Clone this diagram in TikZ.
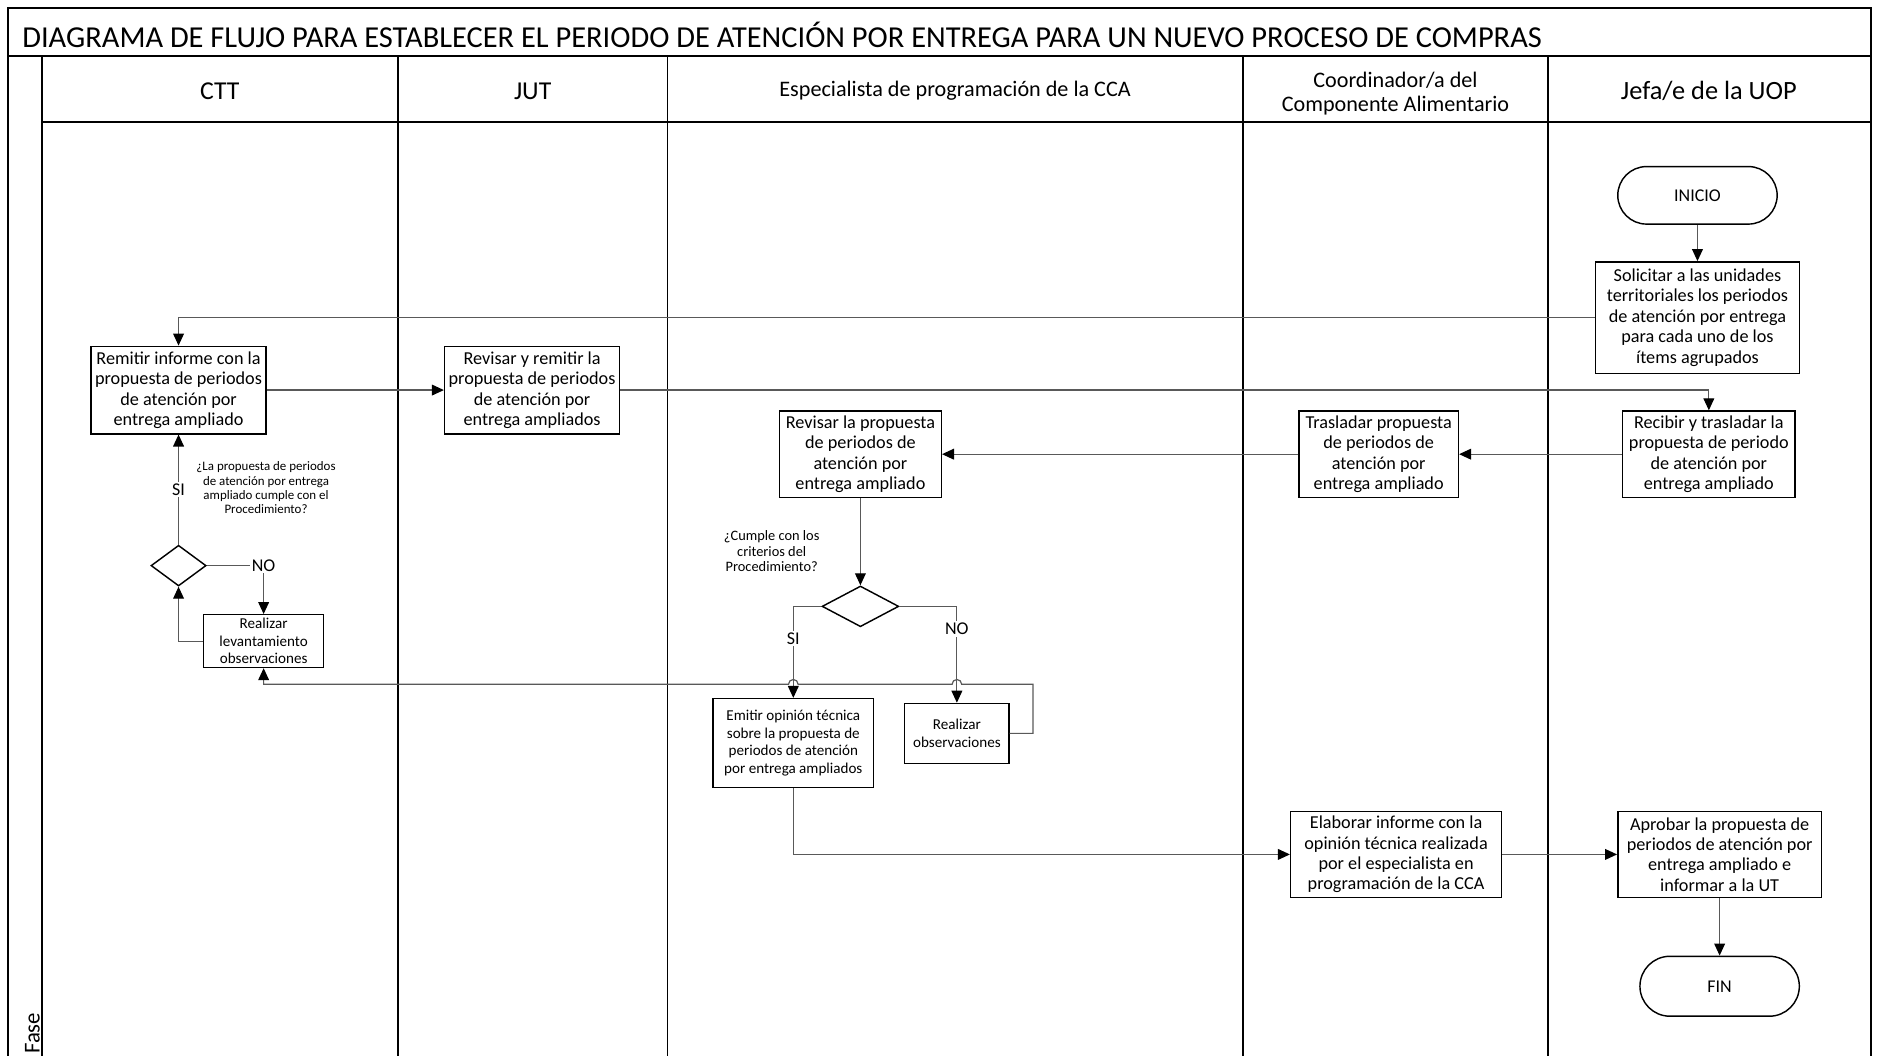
\documentclass[tikz,border=0pt]{standalone}
\usepackage{fontspec}
\setmainfont{Carlito}
\usetikzlibrary{arrows.meta,shapes.geometric,calc}

\tikzset{every picture/.style={line width=1.3pt}}
\tikzset{
  lane/.style={line width=1.5pt},
  proc/.style={draw, line width=1.2pt, align=center, inner sep=1pt, font=\fontsize{15.2}{17}\selectfont},
  smallproc/.style={proc, font=\fontsize{12.6}{14.6}\selectfont},
  term/.style={draw, line width=1.2pt, rounded corners=24pt, align=center, font=\fontsize{15}{17}\selectfont},
  decision/.style={draw, diamond, line width=1.2pt, inner sep=0pt},
  flow/.style={draw=black!65, line width=1pt, -{Triangle[length=10pt,width=9pt,color=black]}},
  answer/.style={fill=white, inner sep=1.5pt, font=\fontsize{15}{16}\selectfont},
  query/.style={align=center, inner sep=0pt},
  lanehead/.style={align=center, font=\fontsize{18.5}{20}\selectfont}
}

\begin{document}
\begin{tikzpicture}[x=1pt,y=1pt,yscale=-1,xscale=1]
\useasboundingbox (0,0) rectangle (1568,881);

%Pool frame and lanes
\draw[lane] (7,881) -- (7,7) -- (1561,7) -- (1561,881);
\draw[lane] (7,47) -- (1561,47);
\draw[lane] (35,102) -- (1561,102);
\foreach \x in {35,332,557,1037,1292} \draw[lane] (\x,47) -- (\x,881);

% Text Node
\node[anchor=west, inner sep=0pt, font=\fontsize{25.4}{28}\selectfont] (title) at (18,29) {DIAGRAMA DE FLUJO PARA ESTABLECER EL PERIODO DE ATENCIÓN POR ENTREGA PARA UN NUEVO PROCESO DE COMPRAS};
\node[lanehead, font=\fontsize{21.5}{24}\selectfont] (hctt) at (183.5,76) {CTT};
\node[lanehead, font=\fontsize{21.5}{24}\selectfont] (hjut) at (444.5,76) {JUT};
\node[lanehead] (hcca) at (797,76) {Especialista de programación de la CCA};
\node[lanehead] (hcoord) at (1164.5,78) {Coordinador/a del\\Componente Alimentario};
\node[lanehead, font=\fontsize{22}{24}\selectfont] (huop) at (1426,76) {Jefa/e de la UOP};
\node[rotate=90, anchor=west, inner sep=0pt, font=\fontsize{19}{20}\selectfont] (fase) at (27,880) {Fase};

%Shape: Terminators
\node[term, minimum width=133pt, minimum height=48pt] (ini) at (1416.5,163) {INICIO};
\node[term, minimum width=133pt, minimum height=50pt, rounded corners=25pt] (fin) at (1435,823) {FIN};

%Shape: Process boxes
\node[proc, minimum width=170pt, minimum height=93pt] (sol) at (1416.5,265) {Solicitar a las unidades\\territoriales los periodos\\de atención por entrega\\para cada uno de los\\ítems agrupados};
\node[proc, minimum width=146pt, minimum height=73pt] (rem) at (149,325.5) {Remitir informe con la\\propuesta de periodos\\de atención por\\entrega ampliado};
\node[proc, minimum width=146pt, minimum height=73pt] (jut) at (444,325.5) {Revisar y remitir la\\propuesta de periodos\\de atención por\\entrega ampliados};
\node[proc, minimum width=144pt, minimum height=72pt] (rec) at (1426,379) {Recibir y trasladar la\\propuesta de periodo\\de atención por\\entrega ampliado};
\node[proc, minimum width=133pt, minimum height=72pt] (tras) at (1150.5,379) {Trasladar propuesta\\de periodos de\\atención por\\entrega ampliado};
\node[proc, minimum width=135pt, minimum height=72pt] (rev) at (718,379) {Revisar la propuesta\\de periodos de\\atención por\\entrega ampliado};
\node[smallproc, minimum width=134pt, minimum height=74pt] (emi) at (662,620) {Emitir opinión técnica\\sobre la propuesta de\\periodos de atención\\por entrega ampliados};
\node[smallproc, minimum width=87pt, minimum height=50pt] (obs) at (798.5,612) {Realizar\\observaciones};
\node[smallproc, minimum width=100pt, minimum height=44pt] (lev) at (220,535) {Realizar\\levantamiento\\observaciones};
\node[proc, minimum width=176pt, minimum height=72pt] (ela) at (1165,713) {Elaborar informe con la\\opinión técnica realizada\\por el especialista en\\programación de la CCA};
\node[proc, minimum width=170pt, minimum height=72pt] (apr) at (1435,713) {Aprobar la propuesta de\\periodos de atención por\\entrega ampliado e\\informar a la UT};

%Shape: Decisions
\node[decision, minimum width=64pt, minimum height=34pt] (dcca) at (718,506) {};
\node[decision, minimum width=46pt, minimum height=34pt] (dctt) at (149,472) {};

% Text Node
\node[query, font=\fontsize{10.8}{11.8}\selectfont] (qctt) at (222,407) {¿La propuesta de periodos\\de atención por entrega\\ampliado cumple con el\\Procedimiento?};
\node[query, font=\fontsize{12}{13}\selectfont] (qcca) at (644,460) {¿Cumple con los\\criterios del\\Procedimiento?};

%Connectors
\draw[flow] (ini.south) -- (sol.north);
\draw[flow] (sol.west) -| (rem.north);
\draw[flow] (rem.east) -- (jut.west);
\draw[flow] (jut.east) -| (rec.north);
\draw[flow] (rec.west) -- (tras.east);
\draw[flow] (tras.west) -- (rev.east);
\draw[flow] (rev.south) -- (dcca.north);
\draw[flow] (dcca.west) -| node[answer, pos=0.675] (sicca) {SI} (emi.north);
\draw[flow] (dcca.east) -| node[answer, pos=0.617] (nocca) {NO} (obs.north);
\coordinate (back) at (862,571);
\draw[flow] (obs.east) -| (back) -- ($(obs.north |- back)+(4,0)$) arc[start angle=0, end angle=-180, radius=4pt]
  -- ($(emi.north |- back)+(4,0)$) arc[start angle=0, end angle=-180, radius=4pt] -- (lev.south |- back) -- (lev.south);
\draw[flow] (lev.west) -| (dctt.south);
\draw[flow] (dctt.north) -- node[answer, pos=0.5] (sictt) {SI} (rem.south);
\draw[flow] (dctt.east) -| node[answer, pos=0.5] (noctt) {NO} (lev.north);
\draw[flow] (emi.south) |- (ela.west);
\draw[flow] (ela.east) -- (apr.west);
\draw[flow] (apr.south) -- (fin.north);

\end{tikzpicture}
\end{document}
